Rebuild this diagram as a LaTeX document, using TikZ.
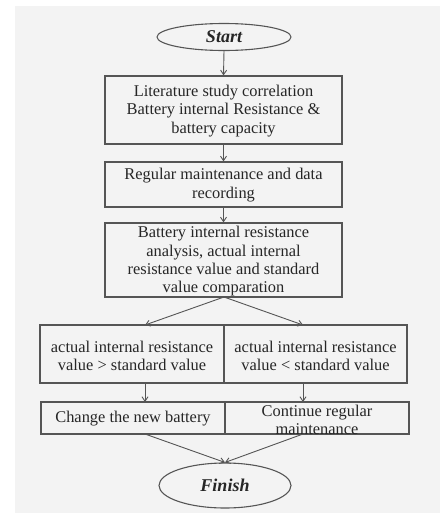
\documentclass[tikz,border=0pt]{standalone}
\usepackage{fontspec}
\setmainfont{Liberation Serif}
\usetikzlibrary{shapes.geometric,arrows.meta}
\definecolor{bgc}{HTML}{F3F3F3}
\definecolor{linec}{HTML}{555555}
\definecolor{txtc}{HTML}{262626}
\begin{document}
\begin{tikzpicture}[x=1pt,y=-1pt,
  box/.style={draw=linec,line width=1.1pt,rectangle,inner sep=0pt},
  txt/.style={align=center,text=txtc,inner sep=0pt,font=\fontsize{16.4}{18.3}\selectfont},
  term/.style={draw=linec,line width=1.1pt,ellipse,inner sep=0pt,text=txtc,font=\fontsize{18}{20}\selectfont\bfseries\itshape},
  arr/.style={draw=linec,line width=0.9pt,-{Straight Barb[length=4.5pt,width=6pt]}}]
\useasboundingbox (0,0) rectangle (440,517);
\fill[white] (0,0) rectangle (440,517);
\fill[bgc] (15,6) rectangle (440,513);
% terminals
\node[term,minimum width=134pt,minimum height=27pt] (start) at (224,37) {Start};
\node[term,minimum width=132pt,minimum height=45pt] (finish) at (225,485.5) {Finish};
% main boxes
\node[box,minimum width=237pt,minimum height=68pt] (b1) at (223.5,110) {};
\node[txt] (t1) at (223.5,111) {Literature study correlation\\Battery internal Resistance \&\\battery capacity};
\node[box,minimum width=237pt,minimum height=45pt] (b2) at (223.5,184.5) {};
\node[txt] (t2) at (223.5,185) {Regular maintenance and data\\recording};
\node[box,minimum width=237pt,minimum height=74pt] (b3) at (223.5,260) {};
\node[txt] (t3) at (223.5,261.5) {Battery internal resistance\\analysis, actual internal\\resistance value and standard\\value comparation};
% row 4
\node[box,minimum width=184pt,minimum height=58pt] (l4) at (132,354) {};
\node[txt] (tl4) at (132,356) {actual internal resistance\\value > standard value};
\node[box,minimum width=183pt,minimum height=58pt] (r4) at (315.5,354) {};
\node[txt] (tr4) at (315.5,356) {actual internal resistance\\value < standard value};
% row 5
\node[box,minimum width=184pt,minimum height=32pt] (l5) at (133,418) {};
\node[txt] (tl5) at (133,419) {Change the new battery};
\node[box,minimum width=184pt,minimum height=32pt] (r5) at (317,418) {};
\node[txt] (tr5) at (317,420) {Continue regular\\maintenance};
% connectors
\coordinate (b3s) at (224,297);
\coordinate (l4n) at (145,325);
\coordinate (r4n) at (303,325);
\coordinate (l4s) at (145,383);
\coordinate (r4s) at (303,383);
\coordinate (l5n) at (145,402);
\coordinate (r5n) at (303,402);
\coordinate (l5s) at (145,434);
\coordinate (r5s) at (303,434);
\draw[arr] (start.south) -- (b1.north);
\draw[arr] (b1.south) -- (b2.north);
\draw[arr] (b2.south) -- (b3.north);
\draw[arr] (b3s) -- (l4n);
\draw[arr] (b3s) -- (r4n);
\draw[arr] (l4s) -- (l5n);
\draw[arr] (r4s) -- (r5n);
\draw[arr] (l5s) -- (finish.north);
\draw[arr] (r5s) -- (finish.north);
\end{tikzpicture}
\end{document}
